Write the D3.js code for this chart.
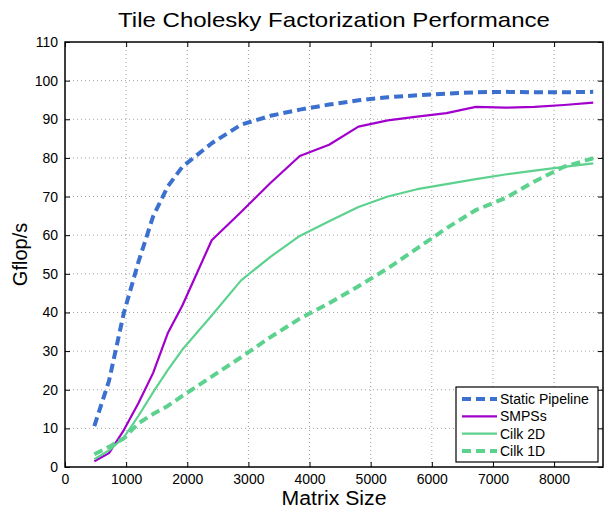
<!DOCTYPE html>
<html>
<head>
<meta charset="utf-8">
<script src="https://cdn.jsdelivr.net/npm/d3@7"></script>
<style>
  body { margin: 0; background: #fff; }
  svg { font-family: 'Liberation Sans', Arial, sans-serif; }
</style>
</head>
<body>
<svg id="chart" width="604" height="508"></svg>
<script>
// ── Data ──────────────────────────────────────────────────────────────────────
const sizes = [480, 720, 960, 1200, 1440, 1680, 1920, 2400, 2880, 3360, 3840, 4320,
  4800, 5280, 5760, 6240, 6720, 7200, 7680, 8160, 8640]

const staticPipeline = [10.6, 22.3, 39.7, 53.0, 64.8, 72.6, 77.7, 83.8, 88.6, 90.9, 92.5, 93.8,
  94.9, 95.7, 96.2, 96.6, 97.0, 97.1, 97.0, 97.0, 97.1]
const smpss = [1.5, 3.6, 9.5, 16.5, 24.3, 34.6, 41.8, 58.7, 66.0, 73.5, 80.5, 83.4,
  88.1, 89.7, 90.7, 91.6, 93.2, 93.0, 93.2, 93.7, 94.3]
const cilk2d = [2.0, 4.3, 7.6, 13.2, 19.3, 25.1, 30.4, 39.2, 48.3, 54.4, 59.8, 63.6,
  67.3, 70.0, 71.9, 73.2, 74.5, 75.7, 76.7, 77.7, 78.6]
const cilk1d = [3.3, 5.2, 7.4, 11.3, 13.7, 15.8, 18.4, 23.4, 28.4, 33.6, 38.4, 42.4,
  46.8, 51.4, 56.6, 61.8, 66.5, 69.6, 73.9, 77.7, 79.9]

const xTicks = [0, 1000, 2000, 3000, 4000, 5000, 6000, 7000, 8000]
const yTicks = [0, 10, 20, 30, 40, 50, 60, 70, 80, 90, 100, 110]

const series = [
  { name: 'Static Pipeline', values: staticPipeline, color: '#3b70cf', width: 4, dash: '9,5' },
  { name: 'SMPSs',           values: smpss,          color: '#a100cc', width: 2.2, dash: null },
  { name: 'Cilk 2D',         values: cilk2d,         color: '#5cd28e', width: 2.2, dash: null },
  { name: 'Cilk 1D',         values: cilk1d,         color: '#5cd28e', width: 4, dash: '9,5' },
]

// ── Setup ─────────────────────────────────────────────────────────────────────
const svg = d3.select('#chart')
const margin = { left: 65, right: 1, top: 42, bottom: 41 }
const W = 604, H = 508
const iw = W - margin.left - margin.right
const ih = H - margin.top - margin.bottom

const x = d3.scaleLinear().domain([0, 8800]).range([0, iw])
const y = d3.scaleLinear().domain([0, 110]).range([ih, 0])

const g = svg.append('g').attr('transform', `translate(${margin.left},${margin.top})`)

// ── Grid ──────────────────────────────────────────────────────────────────────
g.append('g').selectAll('line').data(xTicks.slice(1)).join('line')
  .attr('x1', d => x(d)).attr('x2', d => x(d)).attr('y1', 0).attr('y2', ih)
  .attr('stroke', '#888').attr('stroke-width', 0.8).attr('stroke-dasharray', '1,3')
g.append('g').selectAll('line').data(yTicks.slice(1, -1)).join('line')
  .attr('y1', d => y(d)).attr('y2', d => y(d)).attr('x1', 0).attr('x2', iw)
  .attr('stroke', '#888').attr('stroke-width', 0.8).attr('stroke-dasharray', '1,3')

// ── Axes (inward ticks, MATLAB style) ─────────────────────────────────────────
const styleAxis = sel => {
  sel.select('.domain').remove()
  sel.selectAll('.tick line').attr('stroke', '#000')
  sel.selectAll('.tick text').attr('font-size', 14).attr('fill', '#000')
    .attr('font-family', "'Liberation Sans', Arial, sans-serif")
}
g.append('g').attr('transform', `translate(0,${ih})`)
  .call(d3.axisBottom(x).tickValues(xTicks).tickFormat(d3.format('d')).tickSize(-5).tickPadding(7))
  .call(styleAxis)
g.append('g')
  .call(d3.axisTop(x).tickValues(xTicks).tickFormat('').tickSize(-5))
  .call(styleAxis)
g.append('g')
  .call(d3.axisLeft(y).tickValues(yTicks).tickFormat(d3.format('d')).tickSize(-5).tickPadding(7))
  .call(styleAxis)
g.append('g').attr('transform', `translate(${iw},0)`)
  .call(d3.axisRight(y).tickValues(yTicks).tickFormat('').tickSize(-5))
  .call(styleAxis)

g.append('rect').attr('width', iw).attr('height', ih)
  .attr('fill', 'none').attr('stroke', '#000').attr('stroke-width', 1.5)

// ── Lines ─────────────────────────────────────────────────────────────────────
const line = d3.line().x(d => x(d[0])).y(d => y(d[1]))
series.forEach(s => {
  g.append('path')
    .datum(sizes.map((m, i) => [m, s.values[i]]))
    .attr('d', line)
    .attr('fill', 'none')
    .attr('stroke', s.color)
    .attr('stroke-width', s.width)
    .attr('stroke-dasharray', s.dash)
    .attr('stroke-linejoin', 'round')
})

// ── Legend ────────────────────────────────────────────────────────────────────
const leg = g.append('g').attr('transform', `translate(${456 - margin.left},${387 - margin.top})`)
leg.append('rect').attr('width', 142).attr('height', 75)
  .attr('fill', '#fff').attr('stroke', '#000').attr('stroke-width', 1.2)
series.forEach((s, i) => {
  const ly = 12 + i * 17.3
  leg.append('line').attr('x1', 6).attr('x2', 41).attr('y1', ly).attr('y2', ly)
    .attr('stroke', s.color).attr('stroke-width', s.width).attr('stroke-dasharray', s.dash)
  leg.append('text').attr('x', 44).attr('y', ly).attr('dy', '0.35em')
    .attr('font-size', 14).text(s.name)
})

// ── Labels ────────────────────────────────────────────────────────────────────
svg.append('text').attr('x', 334).attr('y', 27)
  .attr('text-anchor', 'middle').attr('font-size', 21)
  .attr('textLength', 432).attr('lengthAdjust', 'spacingAndGlyphs')
  .text('Tile Cholesky Factorization Performance')
svg.append('text').attr('x', 334).attr('y', 505)
  .attr('text-anchor', 'middle').attr('font-size', 20)
  .attr('textLength', 105).attr('lengthAdjust', 'spacingAndGlyphs')
  .text('Matrix Size')
svg.append('text').attr('transform', `translate(27,${margin.top + ih / 2}) rotate(-90)`)
  .attr('text-anchor', 'middle').attr('font-size', 20).text('Gflop/s')
</script>
</body>
</html>
